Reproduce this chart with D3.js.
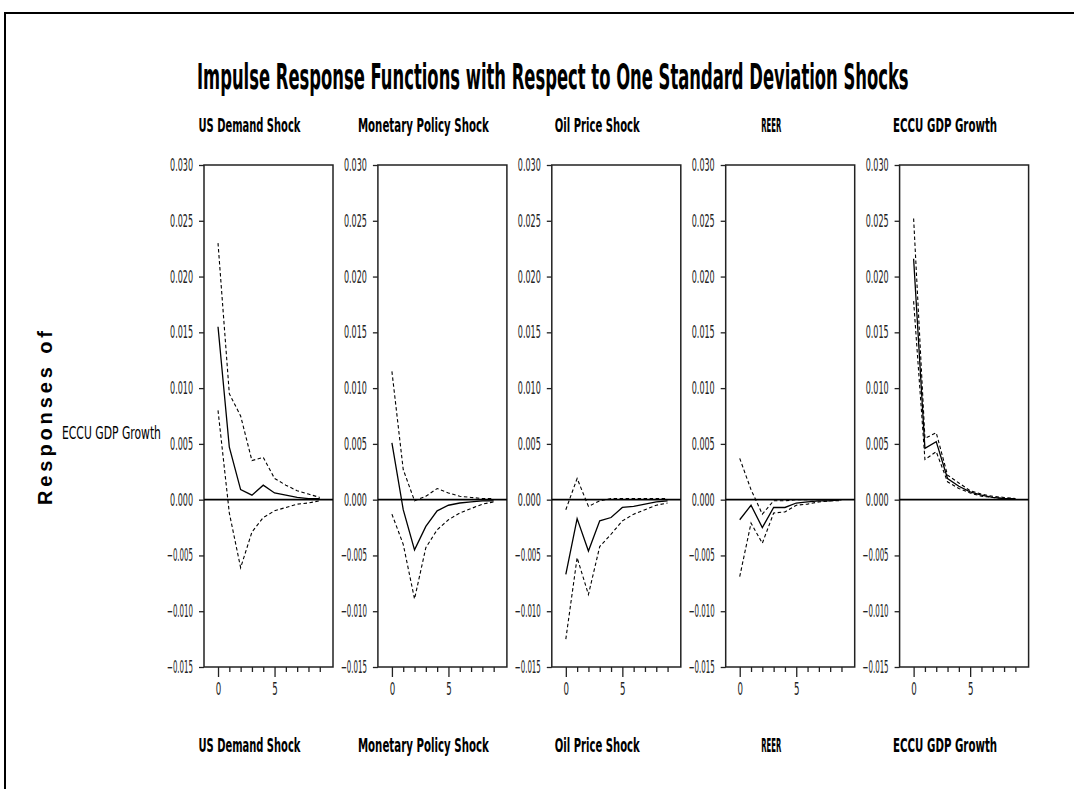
<!DOCTYPE html>
<html>
<head>
<meta charset="utf-8">
<script src="https://cdn.jsdelivr.net/npm/d3@7"></script>
<style>
  body { margin: 0; background: #fff; }
  svg { display: block; }
</style>
</head>
<body>
<div id="viz"></div>
<script>
// data
const shocks = ["US Demand Shock", "Monetary Policy Shock", "Oil Price Shock", "REER", "ECCU GDP Growth"];
const responseVar = "ECCU GDP Growth";
const horizons = [0, 1, 2, 3, 4, 5, 6, 7, 8, 9];
const yTicks = [0.030, 0.025, 0.020, 0.015, 0.010, 0.005, 0.000, -0.005, -0.010, -0.015];
const xTickLabels = [0, 5];

const usDemandMid   = [0.0155, 0.0047, 0.0009, 0.0004, 0.0013, 0.0006, 0.0004, 0.0002, 0.0001, 0.0001];
const usDemandUpper = [0.0230, 0.0095, 0.0075, 0.0035, 0.0038, 0.0019, 0.0013, 0.0008, 0.0005, 0.0002];
const usDemandLower = [0.0080, -0.0012, -0.0061, -0.0029, -0.0016, -0.0010, -0.0007, -0.0004, -0.0003, -0.0001];

const monetaryMid   = [0.0051, -0.0009, -0.0045, -0.0024, -0.0010, -0.0005, -0.0003, -0.0002, -0.0001, -0.0001];
const monetaryUpper = [0.0115, 0.0027, -0.0001, 0.0003, 0.0010, 0.0006, 0.0003, 0.0002, 0.0001, 0.0001];
const monetaryLower = [-0.0013, -0.0040, -0.0089, -0.0043, -0.0027, -0.0018, -0.0012, -0.0008, -0.0004, -0.0002];

const oilMid   = [-0.0067, -0.0017, -0.0046, -0.0019, -0.0016, -0.0007, -0.0006, -0.0004, -0.0002, -0.0001];
const oilUpper = [-0.0009, 0.0019, -0.0006, -0.0001, 0.0001, 0.0001, 0.0001, 0.0001, 0.0001, 0.0001];
const oilLower = [-0.0125, -0.0052, -0.0085, -0.0042, -0.0031, -0.0019, -0.0013, -0.0009, -0.0005, -0.0003];

const reerMid   = [-0.0018, -0.0005, -0.0025, -0.0007, -0.0007, -0.0003, -0.0002, -0.0001, -0.0001, 0.0000];
const reerUpper = [0.0037, 0.0009, -0.0013, -0.0001, -0.0001, 0.0000, 0.0000, 0.0000, 0.0000, 0.0000];
const reerLower = [-0.0069, -0.0021, -0.0039, -0.0012, -0.0011, -0.0005, -0.0004, -0.0002, -0.0001, -0.0001];

const gdpMid   = [0.0216, 0.0046, 0.0052, 0.0019, 0.0012, 0.0007, 0.0004, 0.0002, 0.0001, 0.0001];
const gdpUpper = [0.0252, 0.0055, 0.0060, 0.0022, 0.0015, 0.0008, 0.0005, 0.0003, 0.0002, 0.0001];
const gdpLower = [0.0178, 0.0036, 0.0043, 0.0016, 0.0010, 0.0006, 0.0003, 0.0002, 0.0001, 0.0000];

const panels = [
  {mid: usDemandMid, upper: usDemandUpper, lower: usDemandLower},
  {mid: monetaryMid, upper: monetaryUpper, lower: monetaryLower},
  {mid: oilMid, upper: oilUpper, lower: oilLower},
  {mid: reerMid, upper: reerUpper, lower: reerLower},
  {mid: gdpMid, upper: gdpUpper, lower: gdpLower}
];

const W = 1074, H = 789;
const narrow = "'Liberation Sans Narrow', 'Arial Narrow', 'DejaVu Sans Condensed', sans-serif";
const titleW = [102, 131, 85, 20, 104];

const svg = d3.select("#viz").append("svg")
    .attr("width", W)
    .attr("height", H);

svg.append("rect").attr("width", W).attr("height", H).attr("fill", "#fff");

// squeeze a text horizontally so it spans `w` pixels (the reference font is very condensed)
function squeeze(t, x, y, w, anchor) {
  const len = t.node().getComputedTextLength();
  const s = w / len;
  const x0 = anchor === "middle" ? x - w / 2 : anchor === "end" ? x - w : x;
  t.attr("x", 0).attr("y", 0).attr("text-anchor", "start")
   .attr("transform", `translate(${x0},${y}) scale(${s},1)`);
}

// outer frame (cut off at right and bottom)
svg.append("path")
    .attr("d", `M5,${H + 5}V13H${W + 5}`)
    .attr("fill", "none")
    .attr("stroke", "#000")
    .attr("stroke-width", 2);

// main title
const title = svg.append("text")
    .attr("font-family", narrow)
    .attr("font-weight", "bold")
    .attr("font-size", 35)
    .attr("fill", "#000")
    .text("Impulse Response Functions with Respect to One Standard Deviation Shocks");
squeeze(title, 197, 89, 712, "start");

// row labels
svg.append("text")
    .attr("transform", "translate(52,418) rotate(-90)")
    .attr("text-anchor", "middle")
    .attr("font-family", "'Liberation Sans', Arial, sans-serif")
    .attr("font-weight", "bold")
    .attr("font-size", 20)
    .attr("textLength", 174)
    .attr("lengthAdjust", "spacing")
    .text("Responses of");

const rowLab = svg.append("text")
    .attr("font-family", narrow)
    .attr("font-size", 18)
    .text(responseVar);
squeeze(rowLab, 62, 439, 99, "start");

const y = d3.scaleLinear().domain([-0.015, 0.030]).range([667, 165]);
const pw = 129, step = 173.9, left0 = 204;

panels.forEach((p, k) => {
  const left = left0 + k * step;
  const x = d3.scaleLinear().domain([-1.24, 10.17]).range([left, left + pw]);
  const g = svg.append("g");

  // column titles top and bottom
  [132, 752].forEach(ty => {
    const t = g.append("text")
      .attr("font-family", narrow)
      .attr("font-weight", "bold")
      .attr("font-size", 19)
      .text(shocks[k]);
    squeeze(t, left + pw / 2 - 19, ty, titleW[k], "middle");
  });

  // y axis
  const ya = g.append("g")
    .attr("transform", `translate(${left},0)`)
    .call(d3.axisLeft(y).tickValues(yTicks).tickFormat(d3.format(".3f")).tickSize(5).tickPadding(6));
  ya.select(".domain").remove();
  ya.selectAll("line").attr("stroke", "#222").attr("stroke-width", 1.3);
  ya.selectAll("text")
    .attr("font-family", narrow)
    .attr("font-size", 17)
    .attr("fill", "#222")
    .each(function(d) {
      const t = d3.select(this);
      const s = (d < 0 ? 26 : 23) / this.getComputedTextLength();
      t.attr("x", 0).attr("transform", `translate(-11,0) scale(${s},1)`);
    });

  // x axis
  const xa = g.append("g")
    .attr("transform", `translate(0,${y(-0.015)})`)
    .call(d3.axisBottom(x).tickValues(horizons)
      .tickFormat(d => xTickLabels.includes(d) ? d : "")
      .tickSize(5).tickPadding(8));
  xa.select(".domain").remove();
  xa.selectAll(".tick line")
    .attr("stroke", "#222").attr("stroke-width", 1.3)
    .attr("y2", d => xTickLabels.includes(d) ? 10 : 5);
  xa.selectAll("text")
    .attr("font-family", narrow)
    .attr("font-size", 17)
    .attr("fill", "#222")
    .attr("dy", "0.9em")
    .each(function(d) {
      if (!xTickLabels.includes(d)) return;
      const s = 5.5 / this.getComputedTextLength();
      d3.select(this).attr("transform", `scale(${s},1)`);
    });

  // plot frame
  g.append("rect")
    .attr("x", left).attr("y", y(0.030))
    .attr("width", pw).attr("height", y(-0.015) - y(0.030))
    .attr("fill", "none")
    .attr("stroke", "#222")
    .attr("stroke-width", 1.5);

  // zero line
  g.append("line")
    .attr("x1", left).attr("x2", left + pw)
    .attr("y1", y(0)).attr("y2", y(0))
    .attr("stroke", "#000")
    .attr("stroke-width", 1.6);

  const line = d3.line()
    .x((d, i) => x(horizons[i]))
    .y(d => y(d));

  [p.upper, p.lower].forEach(s => {
    g.append("path")
      .attr("d", line(s))
      .attr("fill", "none")
      .attr("stroke", "#000")
      .attr("stroke-width", 1.1)
      .attr("stroke-dasharray", "3.5,2.5");
  });

  g.append("path")
    .attr("d", line(p.mid))
    .attr("fill", "none")
    .attr("stroke", "#000")
    .attr("stroke-width", 1.3);
});
</script>
</body>
</html>
